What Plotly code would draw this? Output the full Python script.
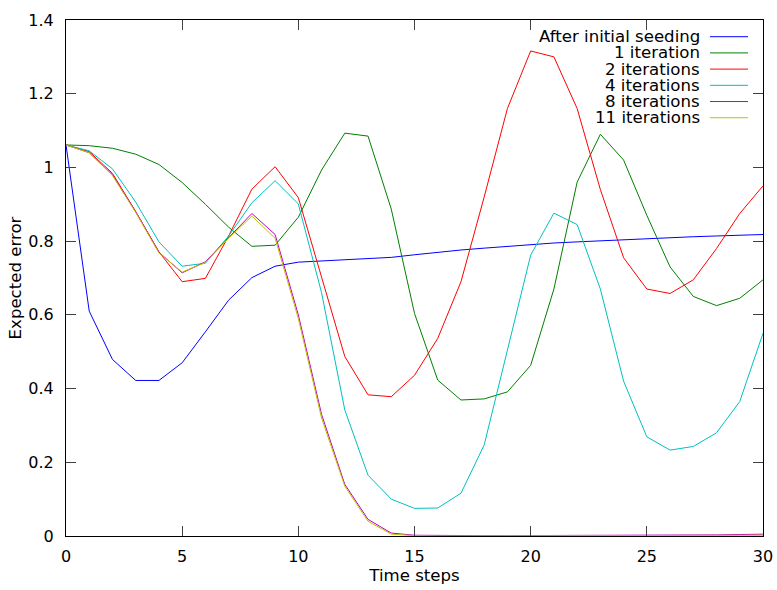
import plotly.graph_objects as go

# Time steps on the x axis
steps = list(range(31))

# Expected error per time step for each number of iterations
after_seeding = [1.061, 0.610, 0.479, 0.422, 0.422, 0.470, 0.554, 0.640, 0.701, 0.732, 0.743,
                 0.746, 0.748, 0.751, 0.756, 0.763, 0.770, 0.776, 0.781, 0.786, 0.790,
                 0.795, 0.798, 0.801, 0.804, 0.807, 0.810, 0.812, 0.814, 0.816, 0.818]
iter_1 = [1.061, 1.059, 1.052, 1.036, 1.008, 0.959, 0.900, 0.838, 0.786, 0.789, 0.865,
          0.993, 1.093, 1.085, 0.887, 0.604, 0.423, 0.369, 0.372, 0.391, 0.463,
          0.670, 0.960, 1.090, 1.020, 0.870, 0.730, 0.650, 0.625, 0.645, 0.695]
iter_2 = [1.061, 1.043, 0.984, 0.880, 0.771, 0.690, 0.699, 0.814, 0.941, 1.002, 0.918,
          0.703, 0.487, 0.383, 0.378, 0.436, 0.536, 0.690, 0.920, 1.160, 1.316,
          1.300, 1.160, 0.940, 0.755, 0.670, 0.658, 0.695, 0.780, 0.875, 0.950]
iter_4 = [1.061, 1.045, 0.996, 0.906, 0.798, 0.732, 0.740, 0.814, 0.904, 0.964, 0.901,
          0.660, 0.342, 0.165, 0.100, 0.075, 0.076, 0.116, 0.247, 0.505, 0.762,
          0.876, 0.845, 0.670, 0.420, 0.269, 0.233, 0.243, 0.280, 0.365, 0.550]
iter_8 = [1.061, 1.040, 0.980, 0.880, 0.770, 0.714, 0.744, 0.810, 0.875, 0.818, 0.600,
          0.330, 0.140, 0.045, 0.008, 0.002, 0.001, 0.001, 0.001, 0.001, 0.001,
          0.001, 0.001, 0.001, 0.001, 0.001, 0.002, 0.002, 0.003, 0.004, 0.005]
iter_11 = [1.061, 1.040, 0.978, 0.878, 0.768, 0.716, 0.742, 0.808, 0.868, 0.808, 0.590,
           0.320, 0.135, 0.040, 0.005, 0.001, 0.000, 0.000, 0.000, 0.000, 0.000,
           0.000, 0.000, 0.000, 0.000, 0.000, 0.000, 0.001, 0.001, 0.002, 0.002]

series_names = ["After initial seeding", "1 iteration", "2 iterations",
                "4 iterations", "8 iterations", "11 iterations"]
series_values = [after_seeding, iter_1, iter_2, iter_4, iter_8, iter_11]
series_colors = ["#0000ff", "#008000", "#ff0000", "#00c0c0", "#c000c0", "#c0c000"]

x_ticks = [0, 5, 10, 15, 20, 25, 30]
y_ticks = [0, 0.2, 0.4, 0.6, 0.8, 1.0, 1.2, 1.4]
y_tick_text = ["0", "0.2", "0.4", "0.6", "0.8", "1", "1.2", "1.4"]

FONT = "DejaVu Sans"
TICK_FS = 16
TEXT_FS = 16.6

fig = go.Figure()
for name, vals, col in zip(series_names, series_values, series_colors):
    fig.add_trace(go.Scatter(x=steps, y=vals, mode="lines", name=name,
                             line=dict(color=col, width=1), showlegend=False))

# Legend drawn gnuplot-style: right-aligned labels with the sample line to their right
row_top = 0.9676
row_step = 16.2 / 516
for i, (name, col) in enumerate(zip(series_names, series_colors)):
    yy = row_top - i * row_step
    fig.add_annotation(x=0.9115, y=yy, xref="paper", yref="paper", text=name,
                       showarrow=False, xanchor="right", yanchor="middle", borderpad=0,
                       font=dict(family=FONT, size=TEXT_FS, color="#000000"))
    fig.add_shape(type="line", xref="paper", yref="paper",
                  x0=0.924, x1=0.9785, y0=yy, y1=yy,
                  line=dict(color=col, width=1))

axis_common = dict(
    showline=True, linecolor="#000000", linewidth=1, mirror="ticks",
    ticks="inside", ticklen=10, tickcolor="#404040", tickwidth=1,
    showgrid=False, zeroline=False, automargin=False,
    tickfont=dict(family=FONT, size=TICK_FS, color="#000000"),
)

fig.update_xaxes(range=[0, 30], tickvals=x_ticks, ticklabelstandoff=6,
                 title=dict(text="Time steps", font=dict(family=FONT, size=TEXT_FS, color="#000000"),
                            standoff=4),
                 **axis_common)
fig.update_yaxes(range=[0, 1.4], tickvals=y_ticks, ticktext=y_tick_text, ticklabelstandoff=8,
                 title=dict(text="Expected error", font=dict(family=FONT, size=TEXT_FS, color="#000000"),
                            standoff=2),
                 **axis_common)

fig.update_layout(
    template="none",
    width=777, height=590,
    margin=dict(l=65.5, r=14, t=20, b=54, pad=0),
    plot_bgcolor="#ffffff", paper_bgcolor="#ffffff",
    font=dict(family=FONT, size=TEXT_FS, color="#000000"),
)

fig.write_html("out.html")
